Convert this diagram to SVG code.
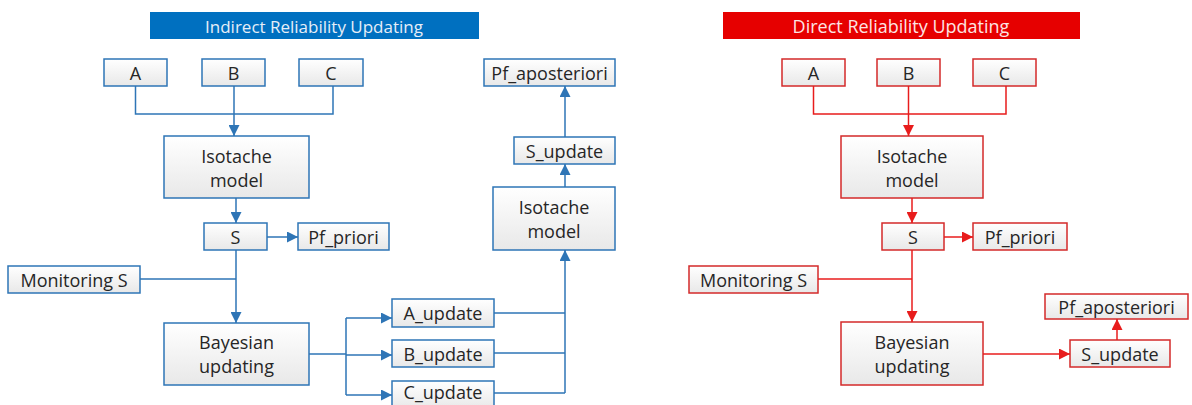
<svg xmlns="http://www.w3.org/2000/svg" width="1192" height="405" viewBox="0 0 1192 405">
<defs>
<linearGradient id="g" x1="0" y1="0" x2="0" y2="1">
<stop offset="0" stop-color="#ffffff"/>
<stop offset="1" stop-color="#e8e8e8"/>
</linearGradient>
<marker id="ab" viewBox="0 0 10 10" refX="10" refY="5" markerWidth="11" markerHeight="11" markerUnits="userSpaceOnUse" orient="auto">
<path d="M0,0 L10,5 L0,10 z" fill="#2e75b6"/>
</marker>
<marker id="ar" viewBox="0 0 10 10" refX="10" refY="5" markerWidth="11" markerHeight="11" markerUnits="userSpaceOnUse" orient="auto">
<path d="M0,0 L10,5 L0,10 z" fill="#e81c1c"/>
</marker>
</defs>
<style>
text{font-family:"Open Sans","Liberation Sans",sans-serif;font-size:18px;fill:#262626;text-anchor:middle;dominant-baseline:central}
.bb{fill:url(#g);stroke:#2e75b6;stroke-width:1.5}
.rb{fill:url(#g);stroke:#d42a2a;stroke-width:1.5}
.bl{fill:none;stroke:#2e75b6;stroke-width:1.5}
.rl{fill:none;stroke:#e81c1c;stroke-width:1.5}
.bl.a{marker-end:url(#ab)}
.rl.a{marker-end:url(#ar)}
.title{fill:#e6eef8;font-size:17px}
.titler{fill:#fde4e4;font-size:18px}
</style>
<rect width="1192" height="405" fill="#ffffff"/>

<!-- Left: Indirect -->
<g id="title-indirect"><rect x="150" y="12" width="329" height="27" fill="#0070c0"/><text class="title" x="314" y="26">Indirect Reliability Updating</text></g>
<g id="L-A"><rect class="bb" x="104" y="59" width="63" height="27"/><text x="135.5" y="72.5">A</text></g>
<g id="L-B"><rect class="bb" x="202" y="59" width="63" height="27"/><text x="233.5" y="72.5">B</text></g>
<g id="L-C"><rect class="bb" x="299" y="59" width="64" height="27"/><text x="331" y="72.5">C</text></g>
<g id="L-iso"><rect class="bb" x="164" y="136" width="145" height="62"/><text x="236.5" y="156">Isotache</text><text x="236.5" y="180">model</text></g>
<g id="L-S"><rect class="bb" x="204" y="223" width="63" height="27"/><text x="235.5" y="236.5">S</text></g>
<g id="L-pfp"><rect class="bb" x="298" y="223" width="91" height="27"/><text x="343.5" y="236.5">Pf_priori</text></g>
<g id="L-mon"><rect class="bb" x="8" y="266" width="132" height="27"/><text x="74" y="279.5">Monitoring S</text></g>
<g id="L-bay"><rect class="bb" x="164" y="323" width="145" height="62"/><text x="236.5" y="342">Bayesian</text><text x="236.5" y="366">updating</text></g>
<g id="L-au"><rect class="bb" x="392" y="299" width="102" height="28"/><text x="443" y="313">A_update</text></g>
<g id="L-bu"><rect class="bb" x="392" y="340" width="102" height="27"/><text x="443" y="353.5">B_update</text></g>
<g id="L-cu"><rect class="bb" x="392" y="381" width="102" height="28"/><text x="443" y="392">C_update</text></g>
<g id="L-iso2"><rect class="bb" x="493" y="187" width="122" height="63"/><text x="554" y="207">Isotache</text><text x="554" y="231">model</text></g>
<g id="L-su"><rect class="bb" x="514" y="137" width="101" height="27"/><text x="564.5" y="150.5">S_update</text></g>
<g id="L-pfa"><rect class="bb" x="484" y="59" width="131" height="27"/><text x="549.5" y="72.5">Pf_aposteriori</text></g>

<!-- Right: Direct -->
<g id="title-direct"><rect x="723" y="12" width="357" height="27" fill="#e60000"/><text class="titler" x="901" y="26">Direct Reliability Updating</text></g>
<g id="R-A"><rect class="rb" x="782" y="59" width="63" height="27"/><text x="813.5" y="72.5">A</text></g>
<g id="R-B"><rect class="rb" x="877" y="59" width="63" height="27"/><text x="908.5" y="72.5">B</text></g>
<g id="R-C"><rect class="rb" x="973" y="59" width="63" height="27"/><text x="1004.5" y="72.5">C</text></g>
<g id="R-iso"><rect class="rb" x="841" y="136" width="142" height="62"/><text x="912" y="156">Isotache</text><text x="912" y="180">model</text></g>
<g id="R-S"><rect class="rb" x="882" y="223" width="62" height="27"/><text x="913" y="236.5">S</text></g>
<g id="R-pfp"><rect class="rb" x="973" y="223" width="94" height="27"/><text x="1020" y="236.5">Pf_priori</text></g>
<g id="R-mon"><rect class="rb" x="689" y="266" width="129" height="27"/><text x="753.5" y="279.5">Monitoring S</text></g>
<g id="R-bay"><rect class="rb" x="841" y="322" width="142" height="63"/><text x="912" y="342">Bayesian</text><text x="912" y="366">updating</text></g>
<g id="R-su"><rect class="rb" x="1070" y="340" width="100" height="27"/><text x="1120" y="353.5">S_update</text></g>
<g id="R-pfa"><rect class="rb" x="1045" y="294" width="143" height="25"/><text x="1116.5" y="306.5">Pf_aposteriori</text></g>

<g id="connectors">
<path class="bl" d="M135.5,86 V114 H333 V86"/>
<path class="bl a" d="M234,86 V136"/>
<path class="bl a" d="M236,198 V223"/>
<path class="bl a" d="M267,237 H298"/>
<path class="bl a" d="M236,250 V323"/>
<path class="bl" d="M140,279 H236"/>
<path class="bl" d="M309,354 H346 M346,318 V395"/>
<path class="bl a" d="M346,318 H392"/>
<path class="bl a" d="M346,355 H392"/>
<path class="bl a" d="M346,395 H392"/>
<path class="bl" d="M494,313 H565 M494,353 H565 M494,393 H565"/>
<path class="bl a" d="M565,393 V250"/>
<path class="bl a" d="M565,187 V164"/>
<path class="bl a" d="M565,137 V86"/>

<path class="rl" d="M813.5,86 V114 H1006 V86"/>
<path class="rl a" d="M908.5,86 V136"/>
<path class="rl a" d="M912,198 V223"/>
<path class="rl a" d="M944,237 H973"/>
<path class="rl a" d="M912,250 V322"/>
<path class="rl" d="M818,279 H912"/>
<path class="rl a" d="M983,354 H1070"/>
<path class="rl a" d="M1117,340 V319"/>
</g>
</svg>
